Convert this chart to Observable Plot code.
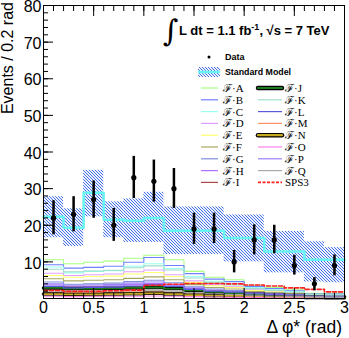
<!DOCTYPE html>
<html><head><meta charset="utf-8">
<script src="https://cdn.jsdelivr.net/npm/d3@7"></script>
<script src="https://cdn.jsdelivr.net/npm/@observablehq/plot@0.6"></script>
<style>body{margin:0;background:#fff;} svg{display:block;}</style>
</head><body><div id="chart"></div>
<script>
// ---- data ----
const binEdges = [0,0.2,0.4,0.6,0.8,1.0,1.2,1.4,1.6,1.8,2.0,2.2,2.4,2.6,2.8,3.0];
const binCenters = [0.1,0.3,0.5,0.7,0.9,1.1,1.3,1.5,1.7,1.9,2.1,2.3,2.5,2.7,2.9];
const dataVals  = [22,23,27,20,33,32,30,19,19,10,16,16,9,4,9];
const dataErrLo = [4.6,4.8,5.1,4.4,5.7,5.7,5.4,4.2,4.0,3.0,4.1,3.8,2.6,1.9,2.8];
const dataErrHi = [4.7,4.8,5.1,4.6,5.8,5.8,5.5,4.3,4.3,3.1,4.1,4.0,2.8,1.7,2.9];
const smVals = [22.3,19.3,28.9,21.5,21.2,22.0,18.5,18.5,18.5,16.5,16.5,12.8,12.8,10.6,10.6];
const smLo   = [16.6,14.2,22.3,16.6,15.3,15.3,12.0,12.0,12.0,10.0,10.0,7.0,7.0,4.5,4.3];
const smHi   = [27.8,24.5,35.0,26.4,27.2,29.0,25.0,25.0,25.0,22.8,22.8,18.3,18.3,15.5,13.9];
const sigA = [10.6,9.5,9.9,10.2,11.0,11.8,10.6,7.4,5.8,5.1,3.6,3.0,2.4,1.4,1.4];
const sigB = [9.2,8.3,8.5,8.8,9.9,11.2,9.0,6.8,5.3,4.6,3.3,2.7,2.1,1.2,1.2];
const sigC = [8.6,7.0,7.4,7.6,8.8,9.5,8.2,6.0,4.7,4.0,3.0,2.4,1.9,1.1,1.0];
const sigD = [6.9,6.3,6.5,6.7,7.3,7.8,6.5,4.8,3.8,3.2,2.4,2.0,1.6,0.9,0.9];
const sigE = [6.3,5.8,6.0,6.1,6.7,7.1,6.0,4.4,3.5,3.0,2.2,1.8,1.5,0.9,0.8];
const sigF = [5.4,4.8,5.0,5.1,5.5,5.9,5.1,3.8,3.0,2.6,1.9,1.6,1.3,0.8,0.7];
const sigG = [4.5,3.9,4.0,4.2,4.6,5.0,4.3,3.2,2.6,2.2,1.6,1.4,1.1,0.7,0.6];
const sigH = [3.7,3.2,3.3,3.5,3.8,4.1,3.5,2.7,2.2,1.9,1.4,1.2,1.0,0.6,0.5];
const sigI = [2.6,2.4,2.5,2.5,2.7,3.0,2.6,2.0,1.7,1.5,1.1,0.9,0.8,0.5,0.4];
const sigJ = [2.9,2.7,2.7,2.8,2.9,3.0,2.7,2.2,1.8,1.5,1.2,1.0,0.8,0.5,0.5];
const sigK = [8.0,7.3,7.5,7.7,8.4,8.9,7.8,5.6,4.4,3.7,2.7,2.2,1.7,1.0,0.9];
const sigL = [3.3,2.9,3.0,3.1,3.4,3.8,3.3,2.5,2.0,1.7,1.3,1.1,0.9,0.6,0.5];
const sigM = [1.7,1.6,1.6,1.7,1.8,2.0,1.7,1.3,1.1,0.9,0.7,0.6,0.5,0.3,0.3];
const sigN = [1.2,1.1,1.1,1.2,1.3,1.4,1.2,0.9,0.8,0.7,0.5,0.4,0.4,0.3,0.2];
const sigO = [0.6,0.5,0.6,0.6,0.6,0.7,0.6,0.5,0.4,0.3,0.3,0.2,0.2,0.1,0.1];
const sigP = [4.0,3.6,3.7,3.8,4.2,4.5,3.9,2.9,2.3,2.0,1.5,1.3,1.0,0.6,0.6];
const sigQ = [2.0,1.9,1.9,2.0,2.1,2.3,2.0,1.6,1.3,1.1,0.9,0.7,0.6,0.4,0.3];
const sps3 = [2.2,2.0,2.0,2.1,2.3,3.6,3.9,4.1,4.1,4.0,3.7,3.4,2.9,2.5,1.8];
const signalNames = ["ℱ·A","ℱ·B","ℱ·C","ℱ·D","ℱ·E","ℱ·F","ℱ·G","ℱ·H","ℱ·I","ℱ·J","ℱ·K","ℱ·L","ℱ·M","ℱ·N","ℱ·O","ℱ·P","ℱ·Q","SPS3"];
const signalSeries = [sigA,sigB,sigC,sigD,sigE,sigF,sigG,sigH,sigI,sigJ,sigK,sigL,sigM,sigN,sigO,sigP,sigQ,sps3];
const xMajorTicks = [0,0.5,1,1.5,2,2.5,3];
const xTickLabels = ["0","0.5","1","1.5","2","2.5","3"];
const xMinorTicks = [0,0.1,0.2,0.3,0.4,0.5,0.6,0.7,0.8,0.9,1,1.1,1.2,1.3,1.4,1.5,1.6,1.7,1.8,1.9,2,2.1,2.2,2.3,2.4,2.5,2.6,2.7,2.8,2.9,3];
const yMajorTicks = [0,10,20,30,40,50,60,70,80];
const yLabelTicks = [10,20,30,40,50,60,70,80];
const yMinorTicks = d3.range(0, 81, 2);

// ---- styles ----
const FONT = "'Liberation Sans', Arial, sans-serif";
const signalColors = ["#a8ff80","#7080ff","#99fff0","#e0a0ff","#ffff70","#a8a860","#7f90d8","#b070ff","#b04848",
                      "#1f7a1f","#a0dcc8","#5858e0","#ff9060","#c8aa20","#ff80e8","#9c80ff","#a8a8a8","#ff2020"];
const thick = new Set([9, 13]);

// ---- tables ----
const binTable = binCenters.map((c, i) => ({x1: binEdges[i], x2: binEdges[i+1], c, v: dataVals[i],
  lo: dataVals[i] - dataErrLo[i], hi: dataVals[i] + dataErrHi[i], sm: smVals[i], smLo: smLo[i], smHi: smHi[i]}));
function steps(vals) {
  const pts = [];
  vals.forEach((v, i) => { pts.push({x: binEdges[i], y: v}); pts.push({x: binEdges[i+1], y: v}); });
  return pts;
}

const signalMarks = [];
signalSeries.forEach((s, i) => {
  const pts = steps(s);
  if (thick.has(i)) {
    signalMarks.push(Plot.line(pts, {x: "x", y: "y", stroke: "#000", strokeWidth: 3.5}));
    signalMarks.push(Plot.line(pts, {x: "x", y: "y", stroke: signalColors[i], strokeWidth: 1.8}));
  } else if (i === 17) {
    signalMarks.push(Plot.line(pts, {x: "x", y: "y", stroke: signalColors[i], strokeWidth: 1.6, strokeDasharray: "4,2"}));
  } else {
    signalMarks.push(Plot.line(pts, {x: "x", y: "y", stroke: signalColors[i], strokeWidth: 1.1}));
  }
});

const plot = Plot.plot({
  width: 349, height: 338,
  marginLeft: 43, marginRight: 5, marginTop: 5, marginBottom: 40,
  style: {fontFamily: FONT, background: "#fff", color: "#000"},
  x: {domain: [0, 3]},
  y: {domain: [0, 80]},
  marks: [
    Plot.rect(binTable, {x1: "x1", x2: "x2", y1: "smLo", y2: "smHi", fill: "url(#hatch)"}),
    Plot.line(steps(smVals), {x: "x", y: "y", stroke: "#66f4f4", strokeWidth: 2.5}),
    ...signalMarks,
    Plot.ruleX(binTable, {x: "c", y1: "lo", y2: "hi", stroke: "#000", strokeWidth: 2.5}),
    Plot.dot(binTable, {x: "c", y: "v", r: 2.6, fill: "#000"}),
    Plot.frame({stroke: "#000", strokeWidth: 1}),
    Plot.axisX(xMajorTicks, {anchor: "bottom", tickSize: 0, tickPadding: 3, fontSize: 16, label: null,
      tickFormat: d => xTickLabels[xMajorTicks.indexOf(d)]}),
    Plot.axisX(xMajorTicks, {anchor: "bottom", tickSize: -10, tickFormat: () => "", label: null}),
    Plot.axisX(xMinorTicks, {anchor: "bottom", tickSize: -5, tickFormat: () => "", label: null}),
    Plot.axisX(xMajorTicks, {anchor: "top", tickSize: -10, tickFormat: () => "", label: null}),
    Plot.axisX(xMinorTicks, {anchor: "top", tickSize: -5, tickFormat: () => "", label: null}),
    Plot.axisY(yLabelTicks, {anchor: "left", tickSize: 0, tickPadding: 2, fontSize: 16, label: null, dy: 1.5,
      tickFormat: d => String(d)}),
    Plot.axisY(yMajorTicks, {anchor: "left", tickSize: -10, tickFormat: () => "", label: null}),
    Plot.axisY(yMinorTicks, {anchor: "left", tickSize: -5, tickFormat: () => "", label: null})
  ]
});

const svg = d3.select(plot);
const defs = svg.insert("defs", ":first-child");
const pat = defs.append("pattern").attr("id", "hatch").attr("patternUnits", "userSpaceOnUse")
  .attr("width", 3).attr("height", 3);
pat.append("rect").attr("width", 3).attr("height", 3).attr("fill", "#eef2ff");
pat.append("path").attr("d", "M0,0L3,3M-1,2L1,4M2,-1L4,1").attr("stroke", "#4670e8").attr("stroke-width", 1);

const over = svg.append("g").attr("text-anchor", "start").attr("font-family", FONT).attr("fill", "#000");

// axis titles
over.append("text").attr("transform", "translate(13,2) rotate(-90)").attr("text-anchor", "end")
  .attr("font-size", 16).text("Events / 0.2 rad");
over.append("text").attr("x", 342).attr("y", 333).attr("text-anchor", "end")
  .attr("font-size", 17.5).text("Δ φ* (rad)");

// luminosity label
over.append("text").attr("x", 163).attr("y", 41).attr("font-size", 30)
  .attr("font-family", "'DejaVu Serif', serif").text("∫");
const lum = over.append("text").attr("x", 179).attr("y", 35).attr("font-size", 13).attr("font-weight", "bold");
lum.append("tspan").text("L dt = 1.1 fb");
lum.append("tspan").attr("dy", -5).attr("font-size", 9).text("-1");
lum.append("tspan").attr("dy", 5).text(", √s = 7 TeV");

// legend
over.append("circle").attr("cx", 209).attr("cy", 57).attr("r", 1.5).attr("fill", "#000");
over.append("text").attr("x", 225).attr("y", 60).attr("font-size", 9).attr("font-weight", "bold").text("Data");
over.append("rect").attr("x", 198).attr("y", 67).attr("width", 22).attr("height", 10).attr("fill", "url(#hatch)");
over.append("line").attr("x1", 198).attr("x2", 220).attr("y1", 72).attr("y2", 72).attr("stroke", "#66f4f4").attr("stroke-width", 2.5);
over.append("text").attr("x", 225).attr("y", 75).attr("font-size", 9).attr("font-weight", "bold")
  .attr("textLength", 66).attr("lengthAdjust", "spacingAndGlyphs").text("Standard Model");
signalNames.forEach((name, i) => {
  const col = i < 9 ? 0 : 1;
  const row = i < 9 ? i : i - 9;
  const y = 88 + row * 11.8;
  const x1 = col === 0 ? 201 : 258, x2 = col === 0 ? 218 : 282;
  if (thick.has(i)) {
    over.append("line").attr("x1", x1).attr("x2", x2).attr("y1", y).attr("y2", y)
      .attr("stroke", "#000").attr("stroke-width", 4.5).attr("stroke-linecap", "round");
    over.append("line").attr("x1", x1).attr("x2", x2).attr("y1", y).attr("y2", y)
      .attr("stroke", signalColors[i]).attr("stroke-width", 2.2).attr("stroke-linecap", "round");
  } else {
    over.append("line").attr("x1", x1).attr("x2", x2).attr("y1", y).attr("y2", y)
      .attr("stroke", signalColors[i]).attr("stroke-width", i === 17 ? 1.6 : 1.2)
      .attr("stroke-dasharray", i === 17 ? "3,1.5" : null);
  }
  over.append("text").attr("x", col === 0 ? 223 : 285).attr("y", y + 4).attr("font-size", 11)
    .attr("font-family", "'Liberation Serif', 'DejaVu Serif', serif").text(name);
});

document.getElementById("chart").appendChild(plot);
</script>
</body></html>
